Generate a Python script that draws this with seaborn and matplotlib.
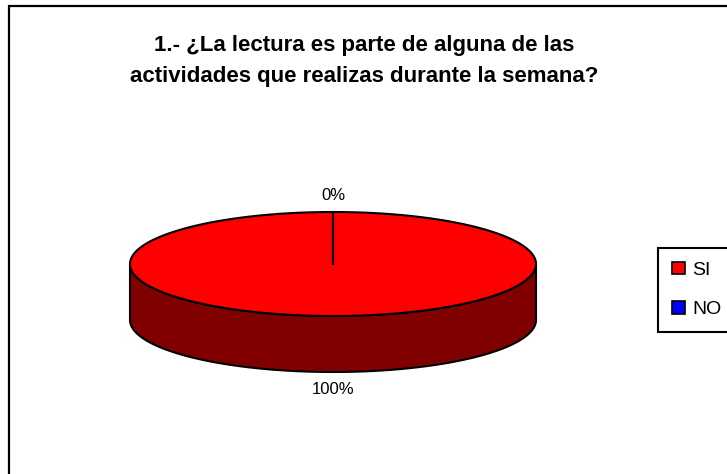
import numpy as np
import matplotlib
matplotlib.use("Agg")
import matplotlib.pyplot as plt
from matplotlib.patches import Polygon, Rectangle, Patch
import seaborn as sns

# data
labels = ["SI", "NO"]
values = [100, 0]
top_colors = ["#FF0000", "#0000FF"]
side_colors = ["#800000", "#000080"]
title = "1.- ¿La lectura es parte de alguna de las\nactividades que realizas durante la semana?"

sns.set_theme(style="white")
plt.rcParams["font.family"] = ["Liberation Sans", "DejaVu Sans"]
plt.rcParams["text.color"] = "black"

W, H = 727, 474
fig = plt.figure(figsize=(W / 100, H / 100), dpi=100)
ax = fig.add_axes([0, 0, 1, 1])
ax.set_xlim(0, W)
ax.set_ylim(H, 0)
ax.axis("off")

# chart frame (right/bottom run off the image, as in the original)
fig.patches.append(Rectangle((9 / W, -0.05), 1.1, 1 - 6 / H + 0.05,
                             transform=fig.transFigure, fill=False,
                             edgecolor="black", linewidth=1.6))

cx, cy, rx, ry, depth = 333, 264, 203, 52, 56
fracs = np.array(values, dtype=float) / sum(values)
# excel style: start at 12 o'clock, go clockwise (screen y down)
starts = -np.pi / 2 + 2 * np.pi * np.concatenate([[0], np.cumsum(fracs)[:-1]])
ends = starts + 2 * np.pi * fracs


def pt(t, dy=0.0):
    return cx + rx * np.cos(t), cy + ry * np.sin(t) + dy


# side wall: front half of ellipse (angles 0..pi in screen coords)
for s, e, col in zip(starts, ends, side_colors):
    for off in (-2 * np.pi, 0, 2 * np.pi):
        l2, h2 = max(s + off, 0), min(e + off, np.pi)
        if h2 > l2:
            t = np.linspace(l2, h2, 200)
            xs, ys = pt(t)
            xb, yb = pt(t[::-1], depth)
            poly = np.column_stack([np.r_[xs, xb], np.r_[ys, yb]])
            ax.add_patch(Polygon(poly, closed=True, facecolor=col,
                                 edgecolor="black", linewidth=1.5, zorder=2))

# top faces
for s, e, col in zip(starts, ends, top_colors):
    if e - s <= 0:
        continue
    t = np.linspace(s, e, 400)
    xs, ys = pt(t)
    if e - s >= 2 * np.pi - 1e-9:
        poly = np.column_stack([xs, ys])
    else:
        poly = np.column_stack([np.r_[cx, xs], np.r_[cy, ys]])
    ax.add_patch(Polygon(poly, closed=True, facecolor=col,
                         edgecolor="black", linewidth=1.5, zorder=3))

# slice boundary lines from centre
for s in starts:
    x1, y1 = pt(s)
    ax.plot([cx, x1], [cy, y1], color="black", linewidth=1.5, zorder=4)

# percent labels
for s, e, v in zip(starts, ends, fracs):
    mid = (s + e) / 2
    x1, y1 = pt(mid)
    if np.sin(mid) > 0:
        y1 += depth + 18
    else:
        y1 -= 17
    ax.text(x1, y1, f"{v:.0%}", ha="center", va="center", fontsize=12,
            color="black", zorder=5)

ax.text(364, 61, title, ha="center", va="center", fontsize=16,
        fontweight="bold", linespacing=1.65, color="black")

handles = [Patch(facecolor=c, edgecolor="black", linewidth=1.2) for c in top_colors]
leg = fig.legend(handles, labels, loc="upper left",
                 bbox_to_anchor=(658 / W, 1 - 248 / H), fontsize=14,
                 frameon=True, fancybox=False, edgecolor="black", framealpha=1,
                 handlelength=0.65, handleheight=0.6, handletextpad=0.4,
                 labelspacing=1.15, borderpad=0.72, borderaxespad=0)
leg.get_frame().set_linewidth(1.5)
for t in leg.get_texts():
    t.set_color("black")

fig.savefig("out.png", dpi=100, facecolor="white")
